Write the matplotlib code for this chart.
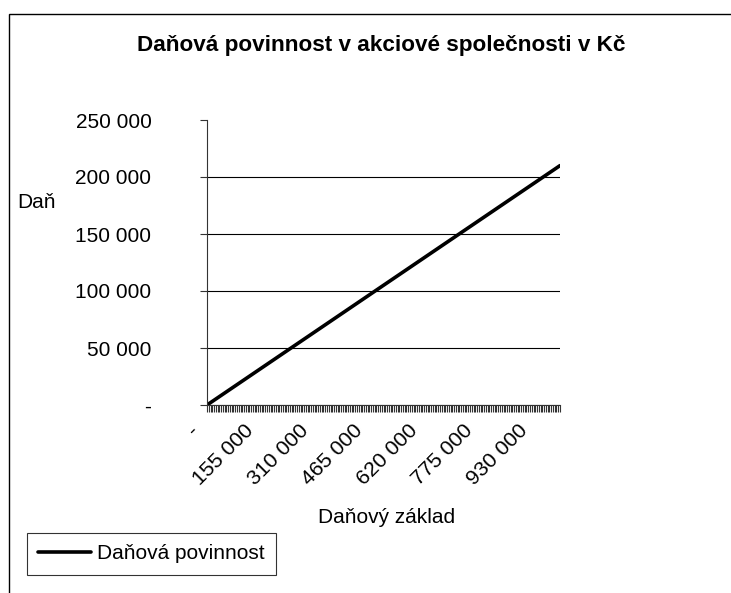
import matplotlib.pyplot as plt
import matplotlib.patches as mpatches
import matplotlib.transforms as mtransforms
import numpy as np

# values (tax base in CZK -> tax in CZK)
tax_base = [0, 155000, 310000, 465000, 620000, 775000, 930000, 1000000]
tax = [0, 32550, 65100, 97650, 130200, 162750, 195300, 210000]

x_ticks = [0, 155000, 310000, 465000, 620000, 775000, 930000]
x_tick_labels = ['-', '155 000', '310 000', '465 000', '620 000', '775 000', '930 000']
y_ticks = [0, 50000, 100000, 150000, 200000, 250000]
y_tick_labels = ['-', '50 000', '100 000', '150 000', '200 000', '250 000']
category_step = 5000

TITLE = 'Daňová povinnost v akciové společnosti v Kč'
SERIES = 'Daňová povinnost'

plt.rcParams['font.family'] = ['Liberation Sans', 'DejaVu Sans']

W, H = 731, 593
fig = plt.figure(figsize=(W / 100, H / 100), dpi=100)

# chart area frame (runs off the right and bottom edge)
frame = mpatches.Rectangle((9 / W, -0.1), 1.2, 1 - 14 / H + 0.1, transform=fig.transFigure,
                           fill=False, ec='black', lw=1.0)
fig.add_artist(frame)

ax = fig.add_axes([207 / W, 1 - 405 / H, 353 / W, 285 / H])
ax.plot(tax_base, tax, color='black', lw=2.6, solid_capstyle='round', label=SERIES)

ax.set_xlim(0, 1000000)
ax.set_ylim(0, 250000)

# x axis: a tick for every category, labels every 31st one
ax.set_xticks(x_ticks)
ax.set_xticks(np.arange(0, 1000001, category_step), minor=True)
ax.set_xticklabels(x_tick_labels, rotation=45, ha='right', va='center',
                   rotation_mode='anchor', fontsize=15.3)
ax.tick_params(axis='x', which='both', direction='out', length=5, width=0.8, color='#333333', pad=11)
shift = mtransforms.ScaledTranslation(-0.11, 0, fig.dpi_scale_trans)
for lbl in ax.get_xticklabels():
    lbl.set_transform(lbl.get_transform() + shift)

ax.set_yticks(y_ticks)
ax.set_yticklabels(y_tick_labels, fontsize=15)
ax.tick_params(axis='y', direction='out', length=5, width=0.8, color='#333333', pad=35)

ax.grid(axis='y', color='black', lw=0.8)
ax.yaxis.get_gridlines()[-1].set_visible(False)
ax.grid(axis='x', visible=False)
ax.set_axisbelow(True)

for side in ['top', 'right']:
    ax.spines[side].set_visible(False)
for side in ['left', 'bottom']:
    ax.spines[side].set_color('#333333')
    ax.spines[side].set_linewidth(0.8)

ax.set_ylabel('Daň', rotation=0, fontsize=15, ha='left', va='center')
ax.yaxis.set_label_coords(-0.538, 0.712)
ax.set_xlabel('Daňový základ', fontsize=15, ha='center', va='center')
ax.xaxis.set_label_coords(0.51, -0.396)

fig.text(381 / W, 1 - 45 / H, TITLE, ha='center', va='center', fontsize=16.2, fontweight='bold')

leg = fig.legend(loc='upper left', bbox_to_anchor=(27 / W, 1 - 533 / H), fontsize=15,
                 frameon=True, fancybox=False, shadow=False, handlelength=2.5,
                 handletextpad=0.3, borderpad=0.55, borderaxespad=0)
leg.get_frame().set_edgecolor('black')
leg.get_frame().set_linewidth(0.8)

fig.savefig('out.png', dpi=100)
